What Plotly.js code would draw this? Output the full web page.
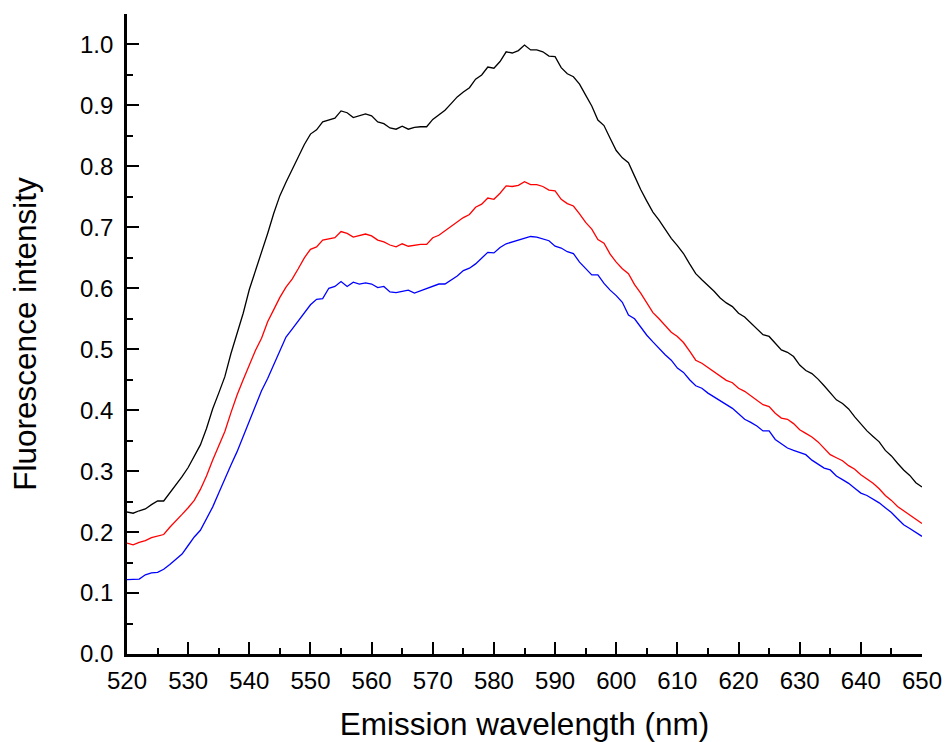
<!DOCTYPE html>
<html>
<head>
<meta charset="utf-8">
<script src="https://cdn.plot.ly/plotly-3.0.1.min.js"></script>
<style>html,body{margin:0;padding:0;background:#fff;}#chart{width:948px;height:742px;}</style>
</head>
<body>
<div id="chart"></div>
<script>
const wavelength = [];
for (let w = 520; w <= 650; w++) wavelength.push(w);

const blackSeries = [
0.233,0.231,0.235,0.238,0.245,0.251,0.251,0.264,0.277,0.291,
0.306,0.324,0.343,0.370,0.402,0.428,0.455,0.493,0.527,0.559,
0.598,0.628,0.660,0.690,0.723,0.752,0.774,0.794,0.815,0.836,
0.853,0.860,0.873,0.876,0.879,0.891,0.888,0.880,0.883,0.886,
0.883,0.873,0.870,0.863,0.861,0.866,0.861,0.864,0.865,0.865,
0.877,0.884,0.892,0.903,0.914,0.922,0.929,0.943,0.950,0.963,
0.961,0.972,0.988,0.986,0.990,0.999,0.991,0.991,0.988,0.981,
0.980,0.962,0.952,0.947,0.935,0.917,0.899,0.876,0.867,0.846,
0.826,0.814,0.806,0.784,0.762,0.743,0.725,0.712,0.697,0.682,
0.670,0.657,0.640,0.624,0.614,0.605,0.595,0.584,0.576,0.570,
0.559,0.553,0.543,0.533,0.524,0.521,0.510,0.499,0.495,0.488,
0.474,0.465,0.460,0.451,0.440,0.428,0.417,0.411,0.402,0.389,
0.377,0.366,0.357,0.348,0.334,0.325,0.313,0.302,0.293,0.281,
0.274];

const redSeries = [
0.182,0.179,0.183,0.186,0.191,0.194,0.196,0.208,0.218,0.229,
0.240,0.252,0.270,0.292,0.318,0.340,0.365,0.396,0.425,0.450,
0.474,0.498,0.518,0.545,0.565,0.585,0.602,0.615,0.632,0.650,
0.664,0.668,0.679,0.681,0.683,0.693,0.690,0.684,0.687,0.689,
0.686,0.679,0.676,0.671,0.668,0.673,0.669,0.671,0.672,0.672,
0.683,0.687,0.694,0.702,0.709,0.716,0.721,0.733,0.738,0.748,
0.746,0.756,0.768,0.767,0.769,0.775,0.770,0.770,0.767,0.761,
0.760,0.746,0.739,0.735,0.722,0.708,0.697,0.680,0.674,0.656,
0.643,0.632,0.624,0.606,0.592,0.577,0.560,0.550,0.539,0.528,
0.521,0.511,0.497,0.482,0.477,0.470,0.463,0.455,0.449,0.445,
0.436,0.431,0.424,0.416,0.409,0.406,0.395,0.387,0.385,0.378,
0.368,0.362,0.356,0.348,0.338,0.327,0.322,0.317,0.309,0.303,
0.294,0.287,0.280,0.271,0.260,0.252,0.242,0.235,0.228,0.220,
0.214];

const blueSeries = [
0.122,0.123,0.123,0.130,0.133,0.134,0.139,0.147,0.156,0.164,
0.178,0.192,0.203,0.222,0.241,0.264,0.288,0.310,0.332,0.357,
0.385,0.410,0.432,0.452,0.474,0.497,0.520,0.533,0.546,0.561,
0.573,0.582,0.583,0.600,0.603,0.611,0.603,0.610,0.607,0.609,
0.607,0.601,0.603,0.594,0.593,0.595,0.597,0.592,0.596,0.600,
0.604,0.607,0.607,0.614,0.620,0.629,0.633,0.640,0.649,0.659,
0.658,0.667,0.673,0.676,0.679,0.681,0.685,0.684,0.681,0.678,
0.669,0.666,0.660,0.657,0.643,0.633,0.622,0.622,0.608,0.597,
0.588,0.577,0.556,0.550,0.536,0.523,0.512,0.501,0.491,0.482,
0.469,0.462,0.450,0.440,0.436,0.428,0.422,0.416,0.410,0.403,
0.394,0.385,0.380,0.374,0.366,0.366,0.352,0.345,0.338,0.334,
0.330,0.327,0.318,0.311,0.305,0.302,0.292,0.286,0.280,0.272,
0.264,0.260,0.254,0.248,0.240,0.232,0.222,0.212,0.206,0.200,
0.193];

const fontFam = 'Arial, "Liberation Sans", sans-serif';

const traces = [
  {x: wavelength, y: blackSeries, type: 'scatter', mode: 'lines', line: {color: '#000000', width: 1.3}, showlegend: false},
  {x: wavelength, y: redSeries, type: 'scatter', mode: 'lines', line: {color: '#ff0000', width: 1.3}, showlegend: false},
  {x: wavelength, y: blueSeries, type: 'scatter', mode: 'lines', line: {color: '#0000ff', width: 1.3}, showlegend: false}
];

const layout = {
  width: 948, height: 742,
  margin: {l: 127, r: 26, t: 14, b: 88},
  paper_bgcolor: '#ffffff', plot_bgcolor: '#ffffff',
  font: {family: fontFam, color: '#000000'},
  xaxis: {
    range: [520, 650], tick0: 520, dtick: 10,
    ticks: 'inside', ticklen: 12, tickwidth: 2, tickcolor: '#000',
    minor: {dtick: 5, ticks: 'inside', ticklen: 6, tickwidth: 2, tickcolor: '#000', showgrid: false},
    showline: true, linewidth: 2.8, linecolor: '#000', mirror: false,
    showgrid: false, zeroline: false,
    ticklabelstandoff: 3,
    tickfont: {size: 24, family: fontFam, color: '#000'},
    title: {text: 'Emission wavelength (nm)', font: {size: 31.5, family: fontFam, color: '#000'}, standoff: 21}
  },
  yaxis: {
    range: [0, 1.05], tick0: 0, dtick: 0.1, tickformat: '.1f',
    ticks: 'inside', ticklen: 12, tickwidth: 2, tickcolor: '#000',
    minor: {dtick: 0.05, ticks: 'inside', ticklen: 6, tickwidth: 2, tickcolor: '#000', showgrid: false},
    showline: true, linewidth: 2.8, linecolor: '#000', mirror: false,
    showgrid: false, zeroline: false,
    ticklabelstandoff: 6,
    tickfont: {size: 24, family: fontFam, color: '#000'},
    title: {text: 'Fluorescence intensity', font: {size: 31.5, family: fontFam, color: '#000'}, standoff: 34}
  }
};

Plotly.newPlot('chart', traces, layout, {displayModeBar: false, staticPlot: true});
</script>
</body>
</html>
